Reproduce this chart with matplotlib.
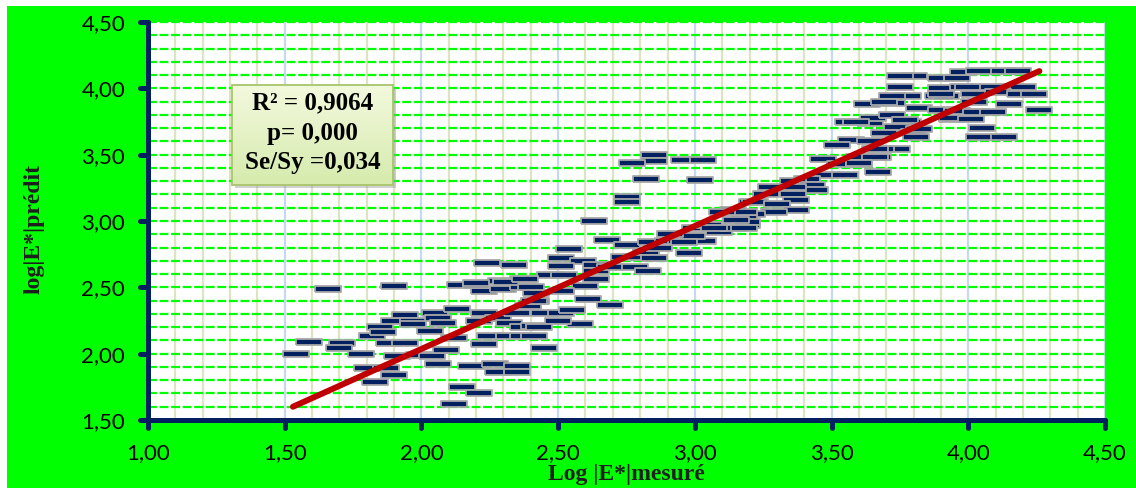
import numpy as np
import matplotlib
matplotlib.use("Agg")
import matplotlib.pyplot as plt
import matplotlib.patches as mpatches
from matplotlib.markers import MarkerStyle, TICKDOWN, TICKLEFT
from matplotlib.ticker import MultipleLocator, FixedLocator, FuncFormatter
from matplotlib.colors import LinearSegmentedColormap

# valeurs : log|E*| mesuré (x) et prédit (y)
log_mesure = np.array([
    1.54, 1.66, 1.59, 1.71, 1.70, 1.78, 1.90, 1.80, 1.90, 1.83, 1.91, 1.87,
    1.82, 1.85, 1.86, 1.88, 1.90, 1.94, 1.97, 1.97, 1.94, 1.99, 2.04, 2.03,
    2.05, 2.06, 2.08, 2.09, 2.06, 2.15, 2.21, 2.12, 2.12, 2.14, 2.13, 2.18,
    2.23, 2.25, 2.27, 2.28, 2.23, 2.20, 2.24, 2.34, 2.29, 2.30, 2.23, 2.21,
    2.28, 2.32, 2.32, 2.35, 2.35, 2.37, 2.35, 2.37, 2.37, 2.37, 2.41, 2.45,
    2.41, 2.39, 2.42, 2.42, 2.31, 2.20, 2.40, 2.45, 2.85, 2.85, 2.77, 2.96,
    3.03, 2.82, 3.02, 2.75, 2.75, 2.63, 2.68, 2.54, 2.51, 2.59, 2.51, 2.47,
    2.52, 2.38, 2.64, 2.60, 2.51, 2.41, 2.61, 2.69, 2.51, 2.55, 2.58, 2.50,
    2.43, 2.64, 2.64, 2.69, 2.75, 2.74, 2.78, 2.83, 2.79, 2.82, 2.85, 2.84,
    2.90, 2.87, 2.95, 2.98, 3.03, 2.98, 3.00, 3.09, 3.15, 3.14, 3.14, 3.21,
    3.19, 3.12, 3.05, 3.80, 3.75, 3.90, 3.96, 3.98, 3.90, 3.98, 3.78, 3.72,
    3.89, 3.92, 3.90, 3.63, 3.72, 3.69, 3.82, 3.90, 3.96, 3.56, 3.64, 3.65,
    3.72, 3.78, 3.94, 3.74, 3.69, 3.80, 3.81, 3.57, 3.52, 3.64, 3.74, 3.68,
    3.67, 3.60, 3.47, 3.53, 3.60, 3.67, 3.48, 3.55, 3.41, 3.36, 3.43, 3.44,
    3.36, 3.28, 3.26, 3.36, 3.37, 3.22, 3.30, 3.37, 3.29, 3.21, 3.18, 3.19,
    3.18, 4.04, 4.13, 4.18, 4.00, 4.20, 4.09, 4.02, 4.11, 4.19, 4.24, 4.02,
    4.15, 4.26, 4.03, 4.09, 3.94, 4.01, 4.05, 4.04, 4.13, 3.75, 3.59, 3.77,
    3.82, 3.66, 3.66, 3.60, 3.18, 3.15, 3.10, 3.07, 2.99, 2.96, 2.91,
])
log_predit = np.array([
    2.00, 2.49, 2.09, 2.08, 2.04, 2.00, 2.51, 1.89, 1.84, 1.79, 1.98, 1.89,
    2.13, 2.20, 2.16, 2.08, 2.25, 2.29, 2.25, 2.22, 2.08, 1.99, 1.98, 2.17,
    2.31, 2.27, 2.23, 2.03, 1.92, 1.75, 1.70, 1.62, 2.12, 2.52, 2.34, 1.91,
    2.07, 2.13, 1.92, 1.86, 2.47, 2.52, 2.68, 2.67, 2.55, 2.49, 2.31, 2.25,
    2.27, 2.23, 2.13, 1.91, 1.86, 2.13, 2.31, 2.50, 2.56, 2.20, 2.13, 2.04,
    2.21, 2.36, 2.40, 2.46, 2.54, 2.53, 2.50, 2.31, 3.50, 3.45, 3.44, 3.46,
    3.46, 3.32, 3.31, 3.18, 3.14, 3.00, 2.86, 2.79, 2.72, 2.70, 2.66, 2.59,
    2.59, 2.56, 2.56, 2.51, 2.47, 2.40, 2.41, 2.37, 2.31, 2.33, 2.22, 2.25,
    2.20, 2.67, 2.62, 2.65, 2.82, 2.73, 2.65, 2.62, 2.73, 2.77, 2.72, 2.84,
    2.85, 2.80, 2.85, 2.76, 2.85, 2.89, 2.95, 2.92, 3.01, 2.95, 3.08, 3.14,
    2.97, 3.06, 2.97, 4.09, 4.01, 4.08, 4.08, 4.12, 4.00, 4.01, 3.94, 3.94,
    3.94, 3.94, 3.96, 3.88, 3.89, 3.90, 3.85, 3.84, 3.83, 3.75, 3.74, 3.78,
    3.80, 3.75, 3.77, 3.71, 3.66, 3.67, 3.63, 3.61, 3.57, 3.60, 3.54, 3.54,
    3.48, 3.48, 3.47, 3.43, 3.43, 3.37, 3.35, 3.35, 3.32, 3.30, 3.27, 3.23,
    3.26, 3.26, 3.20, 3.20, 3.16, 3.14, 3.13, 3.08, 3.07, 3.05, 3.02, 2.99,
    2.95, 4.13, 4.13, 4.13, 4.01, 4.01, 4.01, 3.96, 3.97, 3.96, 3.96, 3.90,
    3.88, 3.84, 3.82, 3.82, 3.78, 3.77, 3.70, 3.63, 3.63, 4.09, 3.75, 3.76,
    3.69, 3.54, 3.48, 3.44, 3.07, 3.01, 3.07, 2.95, 2.89, 2.84, 2.90,
])

# droite de régression (extrémités lues)
fit_x = [1.53, 4.26]
fit_y = [1.60, 4.13]

stats_lines = ["R² = 0,9064", "p= 0,000", "Se/Sy =0,034"]
x_ticks = [1.00, 1.50, 2.00, 2.50, 3.00, 3.50, 4.00, 4.50]
y_ticks = [1.50, 2.00, 2.50, 3.00, 3.50, 4.00, 4.50]

navy = '#002060'
green = '#00ff00'

fig = plt.figure(figsize=(11.36, 4.88), dpi=100, facecolor='white')
# fond vert
fig.patches.append(mpatches.Rectangle((7 / 1136, 0), 1, 1 - 6 / 488,
                                      transform=fig.transFigure,
                                      facecolor=green, edgecolor='none', zorder=-5))

ax = fig.add_axes([148 / 1136, 68 / 488, 957 / 1136, 398 / 488])
ax.set_facecolor('white')
ax.set_axisbelow(True)

# grille
ax.xaxis.set_minor_locator(MultipleLocator(0.1))
ax.yaxis.set_minor_locator(MultipleLocator(0.1))
ax.grid(which='minor', axis='x', color='#dce4c4', lw=1.6, zorder=0)
ax.grid(which='major', axis='x', color='#c6d9f1', lw=1.6, zorder=0)
ax.grid(which='both', axis='y', color=green, lw=1.6, ls=(0, (4, 1.2)), zorder=0.5)
ax.tick_params(which='minor', length=0)

# points (tirets Excel)
dash = [(-1, -0.2), (1, -0.2), (1, 0.2), (-1, 0.2), (-1, -0.2)]
ax.scatter(log_mesure, log_predit, marker=dash, s=18.5 ** 2,
           facecolor=navy, edgecolor='#a8a8a8', linewidths=1.3, zorder=3)

ax.plot(fit_x, fit_y, color='#c00000', lw=4.3, solid_capstyle='round', zorder=4)

ax.set_xlim(1.0, 4.5)
ax.set_ylim(1.5, 4.5)
ax.xaxis.set_major_locator(FixedLocator(x_ticks))
ax.yaxis.set_major_locator(FixedLocator(y_ticks))
fmt = FuncFormatter(lambda v, p: f"{v:.2f}".replace('.', ','))
ax.xaxis.set_major_formatter(fmt)
ax.yaxis.set_major_formatter(fmt)

for s in ['top', 'right']:
    ax.spines[s].set_visible(False)
for s in ['left', 'bottom']:
    ax.spines[s].set_color(navy)
    ax.spines[s].set_linewidth(3.6)
    ax.spines[s].set_capstyle('round')

ax.tick_params(which='major', direction='out', length=5.5, width=3.6, color=navy,
               labelsize=16, labelcolor='black')
ax.tick_params(axis='x', pad=11)
ax.tick_params(axis='y', pad=11)
for t in ax.xaxis.get_major_ticks():
    t.tick1line.set_marker(MarkerStyle(TICKDOWN, capstyle='round'))
for t in ax.yaxis.get_major_ticks():
    t.tick1line.set_marker(MarkerStyle(TICKLEFT, capstyle='round'))
for lab in ax.get_xticklabels() + ax.get_yticklabels():
    lab.set_family('Lato')

lab_font = dict(family='Liberation Serif', weight='bold', size=17, color='#1f1f1f')
ax.set_xlabel('Log |E*|mesuré', **lab_font)
ax.set_ylabel('log|E*|prédit', **lab_font)
ax.xaxis.set_label_coords(0.5, -0.11)
ax.yaxis.set_label_coords(-0.108, 0.48)

# encadré des statistiques
x0, x1, y0, y1 = 0.0878, 0.256, 0.590, 0.842
ax.add_patch(mpatches.Rectangle((x0 + 0.003, y0 - 0.008), x1 - x0, y1 - y0,
                                transform=ax.transAxes, facecolor='#9a9a9a',
                                alpha=0.45, edgecolor='none', zorder=5))
grad = LinearSegmentedColormap.from_list('box', ['#f3f9de', '#d6ebad'])
ax.imshow(np.linspace(0, 1, 64).reshape(-1, 1), cmap=grad, aspect='auto',
          extent=[x0, x1, y0, y1], transform=ax.transAxes, zorder=5.1)
ax.add_patch(mpatches.Rectangle((x0, y0), x1 - x0, y1 - y0, transform=ax.transAxes,
                                facecolor='none', edgecolor='#a9c46c', lw=1.3, zorder=5.2))
for i, line in enumerate(stats_lines):
    ax.text((x0 + x1) / 2, 0.796 - i * 0.075, line, transform=ax.transAxes,
            ha='center', va='center', family='Liberation Serif', weight='bold',
            size=18, color='black', zorder=6)

ax.set_xlim(1.0, 4.5)
ax.set_ylim(1.5, 4.5)

fig.savefig('out.png', dpi=100, facecolor=fig.get_facecolor())
